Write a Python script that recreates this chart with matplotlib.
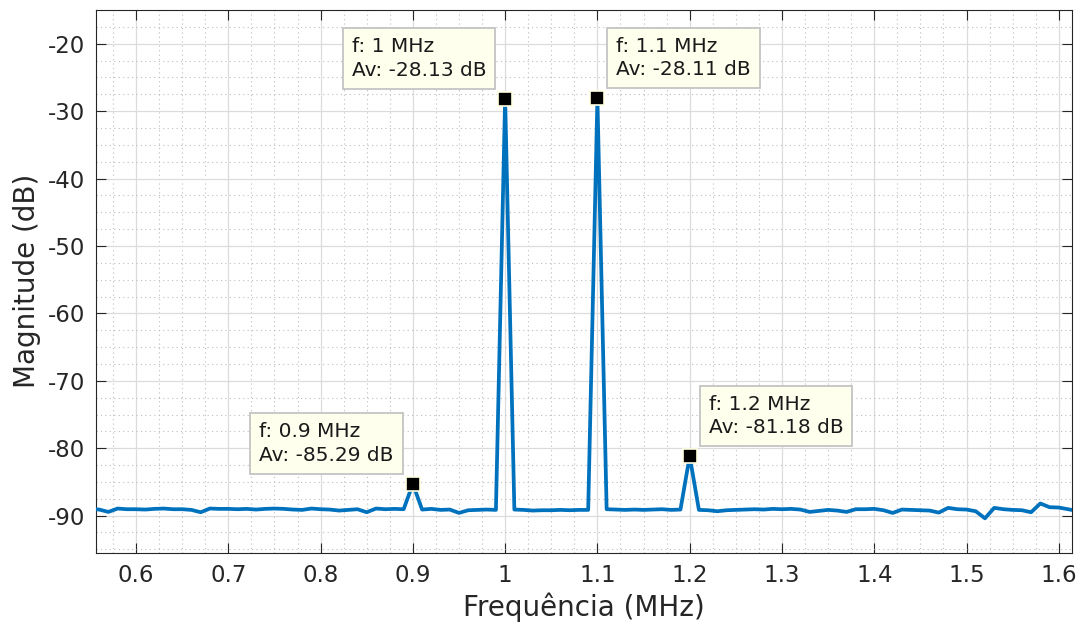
import numpy as np
import matplotlib
matplotlib.use("Agg")
import matplotlib.pyplot as plt
from matplotlib.ticker import MultipleLocator

plt.rcParams["axes.unicode_minus"] = False

# spectrum, 0.01 MHz steps
freq_mhz = np.round(np.arange(0.55, 1.625, 0.01), 2)
mag_db = [
    -89.00, -89.10, -89.45, -88.95, -89.05, -89.05, -89.10, -89.00, -88.95, -89.05,  # 0.55-0.64
    -89.05, -89.15, -89.50, -88.95, -89.00, -89.00, -89.05, -89.00, -89.10, -89.00,  # 0.65-0.74
    -88.95, -89.00, -89.10, -89.15, -88.95, -89.05, -89.10, -89.25, -89.15, -89.05,  # 0.75-0.84
    -89.50, -88.95, -89.05, -89.00, -89.05, -85.29, -89.10, -89.00, -89.15, -89.10,  # 0.85-0.94
    -89.60, -89.20, -89.15, -89.10, -89.15, -28.13, -89.10, -89.15, -89.25, -89.20,  # 0.95-1.04
    -89.20, -89.15, -89.20, -89.15, -89.15, -28.11, -89.05, -89.10, -89.15, -89.10,  # 1.05-1.14
    -89.15, -89.10, -89.05, -89.15, -89.10, -81.18, -89.15, -89.20, -89.35, -89.20,  # 1.15-1.24
    -89.15, -89.10, -89.05, -89.10, -89.00, -89.05, -89.00, -89.10, -89.45, -89.30,  # 1.25-1.34
    -89.15, -89.25, -89.45, -89.05, -89.05, -89.00, -89.20, -89.60, -89.10, -89.15,  # 1.35-1.44
    -89.20, -89.25, -89.55, -88.85, -89.05, -89.10, -89.35, -90.40, -88.85, -89.05,  # 1.45-1.54
    -89.15, -89.20, -89.50, -88.20, -88.75, -88.80, -89.05, -89.30,                  # 1.55-1.62
]

# data tips
tip_f = [0.9, 1.0, 1.1, 1.2]
tip_av = [-85.29, -28.13, -28.11, -81.18]
tip_labels = ["f: 0.9 MHz\nAv: -85.29 dB",
              "f: 1 MHz\nAv: -28.13 dB",
              "f: 1.1 MHz\nAv: -28.11 dB",
              "f: 1.2 MHz\nAv: -81.18 dB"]
tip_side = ["left", "left", "right", "right"]

axcol = "#262626"

fig = plt.figure(figsize=(10.81, 6.27), dpi=100)
ax = fig.add_axes([0.0888, 0.1185, 0.9026, 0.8655])

ax.plot(freq_mhz, mag_db, color="#0072BD", lw=2.7, zorder=3)

ax.set_xlim(0.5566, 1.614)
ax.set_ylim(-95.5, -15)
ax.xaxis.set_minor_locator(MultipleLocator(0.025))
ax.yaxis.set_minor_locator(MultipleLocator(2.5))
ax.set_yticks(np.arange(-90, -19, 10))
ax.set_xticks(np.arange(0.6, 1.61, 0.1))
ax.set_xticklabels(["0.6", "0.7", "0.8", "0.9", "1", "1.1", "1.2", "1.3", "1.4", "1.5", "1.6"])

ax.grid(which="major", color="#DCDCDC", lw=0.9, zorder=0)
ax.grid(which="minor", color="#BDBDBD", lw=0.8, ls=(0, (1, 3)), zorder=0)
ax.set_axisbelow(True)

ax.tick_params(which="major", direction="in", length=7.5, width=0.8,
               top=True, right=True, labelsize=16.5, colors=axcol, pad=8)
ax.tick_params(which="minor", length=0, top=True, right=True)
for s in ax.spines.values():
    s.set_color(axcol)
    s.set_linewidth(0.8)

ax.set_xlabel("Frequência (MHz)", fontsize=20, color=axcol, labelpad=4)
ax.set_ylabel("Magnitude (dB)", fontsize=20, color=axcol, labelpad=5)

for f, av, lab, side in zip(tip_f, tip_av, tip_labels, tip_side):
    ax.plot(f, av, marker="s", ms=10, mfc="black", mec="#FFFFE0", mew=1.2,
            ls="none", zorder=5)
    dx = -19 if side == "left" else 19
    ax.annotate(lab, xy=(f, av), xytext=(dx, 19), textcoords="offset pixels",
                ha="right" if side == "left" else "left", va="bottom",
                multialignment="left",
                fontsize=14.5, color="#1A1A1A", linespacing=1.3, zorder=6,
                bbox=dict(boxstyle="square,pad=0.45", fc="#FFFFEE",
                          ec="#C4C4C4", lw=1.3))

fig.savefig("out.png", dpi=100)
